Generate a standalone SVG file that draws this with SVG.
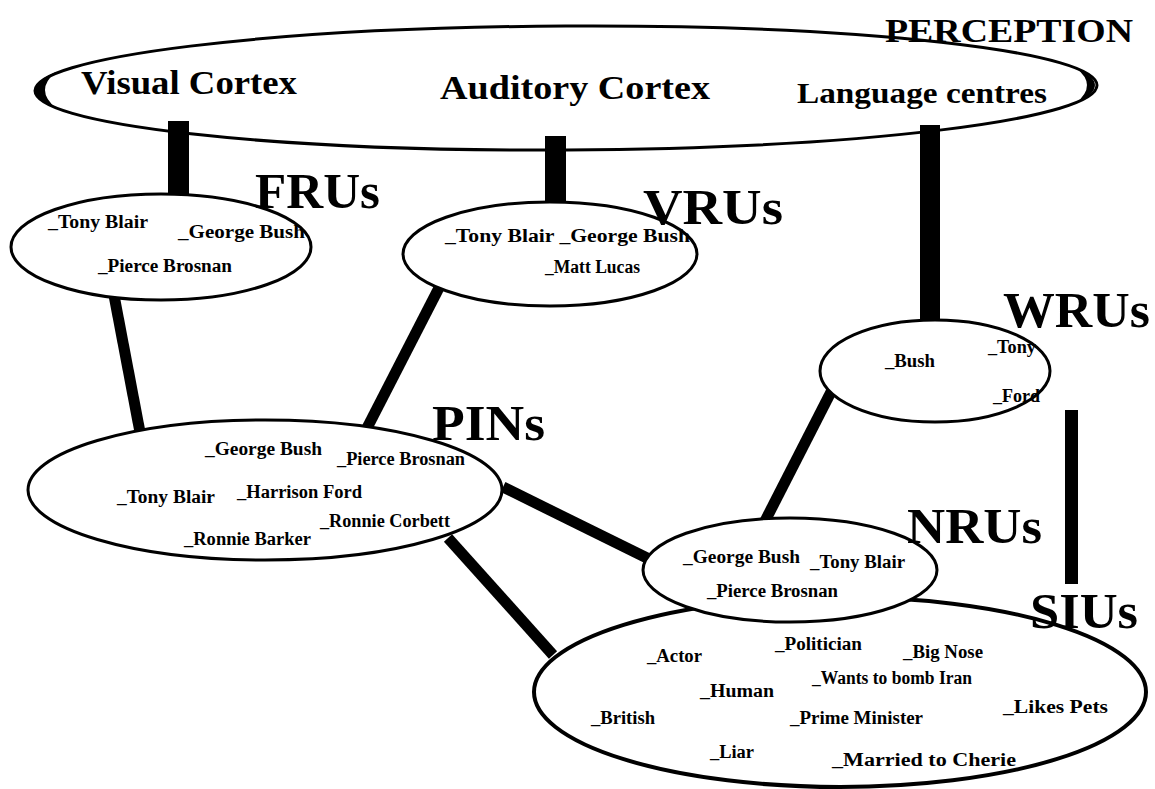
<svg xmlns="http://www.w3.org/2000/svg" width="1155" height="789" viewBox="0 0 1155 789">
<style>
.bg{fill:#fff}
.node{fill:#fff;stroke:#000;stroke-width:3}
.big{font-family:"Liberation Serif","Times New Roman",serif;font-weight:bold;fill:#000}
.name{font-family:"Liberation Serif","Times New Roman",serif;font-weight:bold;font-size:18px;fill:#000}
.title{font-size:50px}
.area{font-size:34px}
.conn line{stroke:#000;stroke-width:11}
.bar{fill:#000}
</style>
<rect class="bg" x="0" y="0" width="1155" height="789"/>
<g id="perception">
<ellipse class="node" cx="566" cy="88" rx="531" ry="62" transform="rotate(-0.3 566 88)"/>
<path d="M56,72 Q14,90 56,108 Q34,90 56,72 Z" fill="#000"/>
<path d="M1076,68 Q1114,85 1076,103 Q1098,85 1076,68 Z" fill="#000"/>
<text class="big" x="885" y="42" font-size="34" textLength="248" lengthAdjust="spacingAndGlyphs">PERCEPTION</text>
<text class="big area" x="81" y="94" textLength="216" lengthAdjust="spacingAndGlyphs">Visual Cortex</text>
<text class="big area" x="440" y="99" textLength="270" lengthAdjust="spacingAndGlyphs">Auditory Cortex</text>
<text class="big" x="797" y="103" font-size="30" textLength="250" lengthAdjust="spacingAndGlyphs">Language centres</text>
</g>
<g id="connectors" class="conn">
<rect class="bar" x="168" y="121" width="21" height="87"/>
<rect class="bar" x="545" y="136" width="21" height="86"/>
<rect class="bar" x="920" y="125" width="20" height="205"/>
<rect class="bar" x="1065" y="410" width="13" height="174"/>
<line x1="113" y1="290" x2="143" y2="448"/>
<line x1="442" y1="282" x2="367" y2="428"/>
<line x1="503" y1="487" x2="647" y2="558"/>
<line x1="448" y1="538" x2="553" y2="655"/>
<line x1="763" y1="525" x2="832" y2="390"/>
</g>
<g id="frus">
<ellipse class="node" cx="161" cy="247" rx="150" ry="53"/>
<text class="big title" x="255" y="208" textLength="125" lengthAdjust="spacingAndGlyphs">FRUs</text>
<text class="name" x="48" y="228" textLength="100" lengthAdjust="spacingAndGlyphs">_Tony Blair</text>
<text class="name" x="178" y="238" textLength="127" lengthAdjust="spacingAndGlyphs">_George Bush</text>
<text class="name" x="98" y="272" textLength="134" lengthAdjust="spacingAndGlyphs">_Pierce Brosnan</text>
</g>
<g id="vrus">
<ellipse class="node" cx="550" cy="254" rx="147" ry="52"/>
<text class="big title" x="643" y="224" textLength="140" lengthAdjust="spacingAndGlyphs">VRUs</text>
<text class="name" x="445" y="242" textLength="245" lengthAdjust="spacingAndGlyphs">_Tony Blair _George Bush</text>
<text class="name" x="545" y="273" textLength="95" lengthAdjust="spacingAndGlyphs">_Matt Lucas</text>
</g>
<g id="wrus">
<ellipse class="node" cx="935" cy="371" rx="115" ry="51"/>
<text class="big title" x="1003" y="327" textLength="147" lengthAdjust="spacingAndGlyphs">WRUs</text>
<text class="name" x="885" y="367" textLength="50" lengthAdjust="spacingAndGlyphs">_Bush</text>
<text class="name" x="988" y="353" textLength="48" lengthAdjust="spacingAndGlyphs">_Tony</text>
<text class="name" x="993" y="402" textLength="47" lengthAdjust="spacingAndGlyphs">_Ford</text>
</g>
<g id="pins">
<ellipse class="node" cx="265" cy="490" rx="237" ry="70"/>
<text class="big title" x="432" y="440" textLength="113" lengthAdjust="spacingAndGlyphs">PINs</text>
<text class="name" x="205" y="455" textLength="117" lengthAdjust="spacingAndGlyphs">_George Bush</text>
<text class="name" x="337" y="465" textLength="128" lengthAdjust="spacingAndGlyphs">_Pierce Brosnan</text>
<text class="name" x="117" y="503" textLength="98" lengthAdjust="spacingAndGlyphs">_Tony Blair</text>
<text class="name" x="237" y="498" textLength="125" lengthAdjust="spacingAndGlyphs">_Harrison Ford</text>
<text class="name" x="320" y="527" textLength="130" lengthAdjust="spacingAndGlyphs">_Ronnie Corbett</text>
<text class="name" x="184" y="545" textLength="127" lengthAdjust="spacingAndGlyphs">_Ronnie Barker</text>
</g>
<g id="sius">
<ellipse class="node" cx="840" cy="692" rx="306" ry="95" style="stroke-width:4"/>
<text class="big title" x="1030" y="628" textLength="108" lengthAdjust="spacingAndGlyphs">SIUs</text>
<text class="name" x="647" y="662" textLength="55" lengthAdjust="spacingAndGlyphs">_Actor</text>
<text class="name" x="775" y="650" textLength="87" lengthAdjust="spacingAndGlyphs">_Politician</text>
<text class="name" x="903" y="658" textLength="80" lengthAdjust="spacingAndGlyphs">_Big Nose</text>
<text class="name" x="812" y="684" textLength="160" lengthAdjust="spacingAndGlyphs">_Wants to bomb Iran</text>
<text class="name" x="700" y="697" textLength="74" lengthAdjust="spacingAndGlyphs">_Human</text>
<text class="name" x="591" y="724" textLength="64" lengthAdjust="spacingAndGlyphs">_British</text>
<text class="name" x="790" y="724" textLength="133" lengthAdjust="spacingAndGlyphs">_Prime Minister</text>
<text class="name" x="1003" y="713" textLength="105" lengthAdjust="spacingAndGlyphs">_Likes Pets</text>
<text class="name" x="710" y="758" textLength="44" lengthAdjust="spacingAndGlyphs">_Liar</text>
<text class="name" x="832" y="766" textLength="184" lengthAdjust="spacingAndGlyphs">_Married to Cherie</text>
</g>
<g id="nrus">
<ellipse class="node" cx="790" cy="570" rx="147" ry="52"/>
<text class="big title" x="907" y="543" textLength="135" lengthAdjust="spacingAndGlyphs">NRUs</text>
<text class="name" x="683" y="563" textLength="117" lengthAdjust="spacingAndGlyphs">_George Bush</text>
<text class="name" x="810" y="568" textLength="95" lengthAdjust="spacingAndGlyphs">_Tony Blair</text>
<text class="name" x="707" y="597" textLength="131" lengthAdjust="spacingAndGlyphs">_Pierce Brosnan</text>
</g>
</svg>
